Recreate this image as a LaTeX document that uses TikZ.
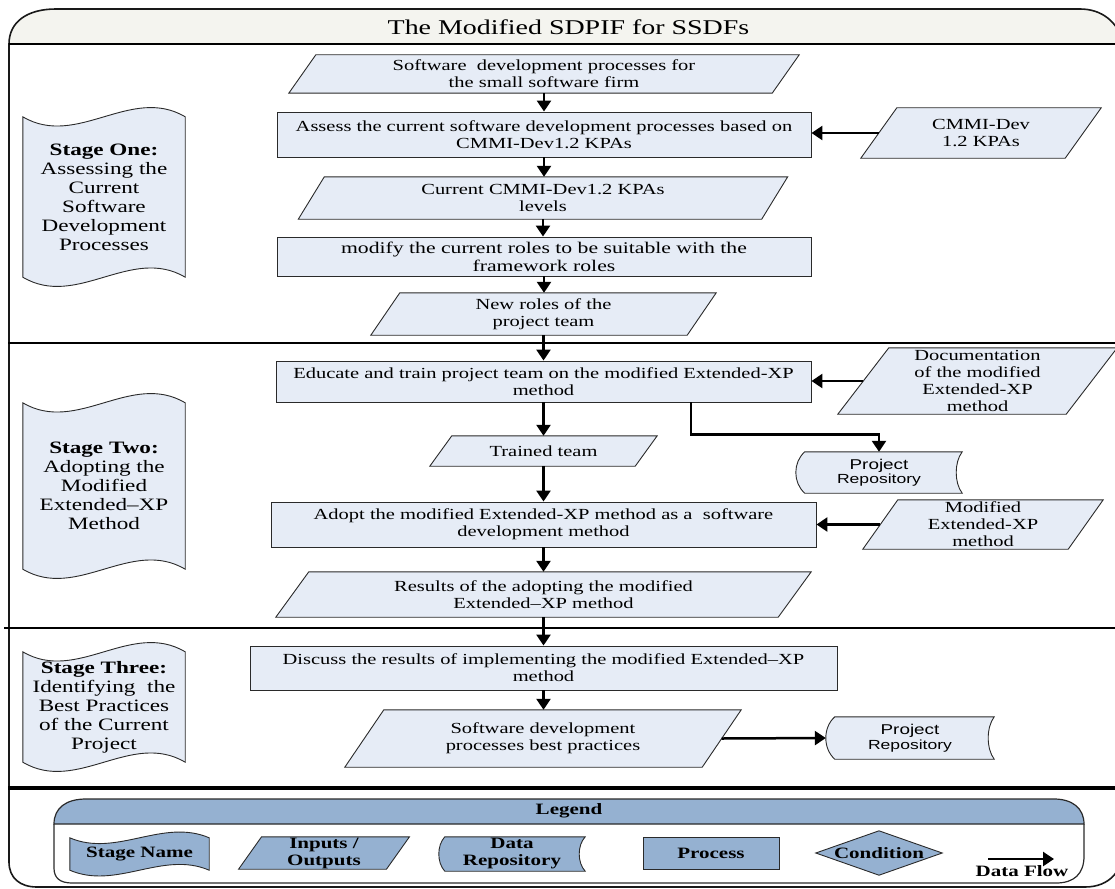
\documentclass[tikz,border=0pt]{standalone}
\usepackage{fontspec}
\setmainfont[FakeStretch=1.33]{Liberation Serif}
\newfontfamily\sansx[FakeStretch=1.33]{Liberation Sans}
\usetikzlibrary{arrows.meta,calc,backgrounds}
\definecolor{boxc}{HTML}{E6ECF6}
\definecolor{legc}{HTML}{95B1D1}
\definecolor{linec}{HTML}{2A2A2A}
\definecolor{titlec}{HTML}{F4F4EF}
\newcommand\mainsz{\fontsize{15.4}{17}\selectfont}
\newcommand\bigsz{\fontsize{16.3}{18}\selectfont}
\newcommand\stagesz{\fontsize{17.4}{19}\selectfont}
\newcommand\legsz{\fontsize{15.8}{17}\selectfont\bfseries}
\newcommand\titlesz{\fontsize{21}{25}\selectfont}
\newcommand\projsz{\fontsize{14.2}{17}\selectfont}
\newcommand\reposz{\fontsize{13.2}{17}\selectfont}

\newcommand\ioshape[3][boxc]{%
  \begin{scope}[on background layer]
  \draw[shp,fill=#1] ([xshift=-#3/2]#2.south west) -- ([xshift=#3/2]#2.north west) -- ([xshift=#3/2]#2.north east) -- ([xshift=-#3/2]#2.south east) -- cycle;
  \end{scope}}
\newcommand\tapeshape[3][boxc]{%
  \begin{scope}[on background layer]
  \draw[shp,fill=#1] (#2.north west) .. controls ($(#2.north west)!0.3333!(#2.north east)+(0,#3)$) and ($(#2.north west)!0.6667!(#2.north east)-(0,#3)$) .. (#2.north east) -- (#2.south east) .. controls ($(#2.south west)!0.6667!(#2.south east)-(0,#3)$) and ($(#2.south west)!0.3333!(#2.south east)+(0,#3)$) .. (#2.south west) -- cycle;
  \end{scope}}
\newcommand\reposhape[4][boxc]{%
  \begin{scope}[on background layer]
  \draw[shp,fill=#1] ([xshift=#3]#2.north west) -- (#2.north east)
    .. controls ($(#2.east)!0.5!(#2.north east)+(-#4*4/3,0)$) and ($(#2.east)!0.5!(#2.south east)+(-#4*4/3,0)$) .. (#2.south east)
    -- ([xshift=#3]#2.south west)
    .. controls ($(#2.west)!0.5!(#2.south west)+(-#3/3,0)$) and ($(#2.west)!0.5!(#2.north west)+(-#3/3,0)$) .. ([xshift=#3]#2.north west) -- cycle;
  \end{scope}}

\tikzset{
  shp/.style={draw=linec, line width=0.9pt},
  proc/.style={draw=linec, fill=boxc, line width=0.9pt, inner sep=0pt, align=center, font=\mainsz},
  iotxt/.style={inner sep=0pt, align=center, font=\mainsz},
  stagetxt/.style={inner sep=0pt, align=center, font=\stagesz},
  legtxt/.style={inner sep=0pt, align=center, font=\legsz},
  flow/.style={line width=2.5pt, -{Triangle[width=14pt,length=11pt]}},
}

\begin{document}
\begin{tikzpicture}[x=1pt,y=-1pt]
\useasboundingbox (0,0) rectangle (1115,888);

% frame
\begin{scope}[on background layer]
\fill[titlec] (9,44) .. controls (9,22) and (27,9) .. (56,9) -- (1080,9) .. controls (1102,9) and (1118,22) .. (1124,44) -- cycle;
\draw[line width=1.6pt, draw=black!90] (9,44) .. controls (9,22) and (27,9) .. (56,9) -- (1080,9) .. controls (1102,9) and (1118,22) .. (1124,44) -- (1124,845) .. controls (1124,870) and (1110,887) .. (1085,887) -- (37,887) .. controls (20,887) and (9,878) .. (9,862) -- cycle;
\draw[line width=1.6pt] (9,44) -- (1124,44);
\draw[line width=2.5pt] (8,343) -- (1124,343);
\draw[line width=2.2pt] (4,628) -- (1124,628);
\draw[line width=4.5pt] (8,788) -- (1124,788);
\draw[shp, line width=1.2pt, fill=legc] (54,824) .. controls (54,808) and (66,799) .. (86,799) -- (1054,799) .. controls (1072,799) and (1084,808) .. (1084,824) -- cycle;
\draw[shp, line width=1.2pt] (54,824) -- (54,868) .. controls (54,878) and (60,883) .. (72,883) -- (1056,883) .. controls (1074,883) and (1084,874) .. (1084,856) -- (1084,824);
\end{scope}

\node[inner sep=0pt, font=\titlesz] (title) at (568.5,27) {The Modified SDPIF for SSDFs};

% stages
\node[stagetxt, minimum width=162, minimum height=160] (s1) at (104,197) {\textbf{Stage One:}\\Assessing the\\Current\\Software\\Development\\Processes};
\tapeshape{s1}{32}
\node[stagetxt, minimum width=162, minimum height=166] (s2) at (104,486) {\textbf{Stage Two:}\\Adopting the\\Modified\\Extended–XP\\Method};
\tapeshape{s2}{32}
\node[stagetxt, minimum width=162, minimum height=110] (s3) at (104,707) {\textbf{Stage Three:}\\Identifying\ \ the\\Best Practices\\of the Current\\Project};
\tapeshape{s3}{32}

% stage one
\node[iotxt, minimum width=483, minimum height=38] (in1) at (544,74) {Software\ \ development processes for\\the small software firm};
\ioshape{in1}{27}
\node[proc, minimum width=534, minimum height=45] (p1) at (544,134.5) {Assess the current software development processes based on\\CMMI-Dev1.2 KPAs};
\node[iotxt, minimum width=204, minimum height=50] (in2) at (981,133) {CMMI-Dev\\1.2 KPAs};
\ioshape{in2}{36}
\node[iotxt, minimum width=463, minimum height=42] (in3) at (543,198) {Current CMMI-Dev1.2 KPAs\\levels};
\ioshape{in3}{26}
\node[proc, font=\bigsz, minimum width=534, minimum height=39] (p2) at (544,256.5) {modify the current roles to be suitable with the\\framework roles};
\node[iotxt, minimum width=316, minimum height=42] (in4) at (543.5,314) {New roles of the\\project team};
\ioshape{in4}{29}

% stage two
\node[proc, minimum width=535, minimum height=41] (p3) at (543.5,381.5) {Educate and train project team on the modified Extended-XP\\method};
\node[iotxt, minimum width=228, minimum height=66] (in5) at (977.5,381) {Documentation\\of the modified\\Extended-XP\\method};
\ioshape{in5}{51}
\node[inner sep=0pt, align=center, minimum width=166, minimum height=41] (r1) at (879,472.5) {{\sansx\projsz Project}\\[1pt]{\sansx\reposz Repository}};
\reposhape{r1}{9}{6}
\node[iotxt, minimum width=205, minimum height=30] (in6) at (543.5,451) {Trained team};
\ioshape{in6}{22}
\node[proc, minimum width=545, minimum height=45] (p4) at (543.5,524.5) {Adopt the modified Extended-XP method as a\ \ software\\development method};
\node[iotxt, minimum width=205, minimum height=49] (in7) at (983,524.5) {Modified\\Extended-XP\\method};
\ioshape{in7}{35}
\node[iotxt, minimum width=502, minimum height=45] (in8) at (543.5,594.5) {Results of the adopting the modified\\Extended–XP method};
\ioshape{in8}{33}

% stage three
\node[proc, minimum width=587, minimum height=44] (p5) at (543.5,668) {Discuss the results of implementing the modified Extended–XP\\method};
\node[iotxt, minimum width=357, minimum height=57] (in9) at (543,738.5) {Software development\\processes best practices};
\ioshape{in9}{39}
\node[inner sep=0pt, align=center, minimum width=168, minimum height=42] (r2) at (910,738) {{\sansx\projsz Project}\\[1pt]{\sansx\reposz Repository}};
\reposhape{r2}{9}{6}

% flows
\draw[flow] (in1.south) -- (in1.south |- p1.north);
\draw[flow] (p1.south) -- (p1.south |- in3.north);
\draw[flow] (in3.south) -- (in3.south |- p2.north);
\draw[flow] (p2.south) -- (p2.south |- in4.north);
\draw[flow] (in4.south) -- (in4.south |- p3.north);
\draw[flow] (p3.south) -- (p3.south |- in6.north);
\draw[flow] (in6.south) -- (in6.south |- p4.north);
\draw[flow] (p4.south) -- (p4.south |- in8.north);
\draw[flow] (in8.south) -- (in8.south |- p5.north);
\draw[flow] (p5.south) -- (p5.south |- in9.north);
\draw[flow] (in2.west) -- (in2.west -| p1.east);
\draw[flow] (in5.west) -- (in5.west -| p3.east);
\draw[flow] (in7.west) -- (in7.west -| p4.east);
\draw[flow] ([xshift=147.5]p3.south) -- ++(0,32) -| (r1.north);
\draw[flow] (in9.east) -- (r2.west);

% legend
\node[legtxt] (lg) at (569,811) {Legend};
\node[legtxt, minimum width=139, minimum height=32] (lsn) at (139.5,854) {Stage Name};
\tapeshape[legc]{lsn}{20}
\node[legtxt, minimum width=147.5, minimum height=32] (lio) at (324,853) {Inputs /\\Outputs};
\ioshape[legc]{lio}{23}
\node[legtxt, minimum width=146, minimum height=34] (ldr) at (512,854) {Data\\Repository};
\reposhape[legc]{ldr}{6}{6}
\node[legtxt, draw=linec, fill=legc, line width=0.9pt, minimum width=136, minimum height=32] (lpr) at (711,853) {Process};
\node[legtxt, minimum width=126, minimum height=44] (lcd) at (879,853) {Condition};
\begin{scope}[on background layer]
\draw[shp, fill=legc] (lcd.west) -- (lcd.north) -- (lcd.east) -- (lcd.south) -- cycle;
\end{scope}
\node[legtxt] (ldf) at (1022,871) {Data Flow};
\coordinate (df1) at (988,859);
\coordinate (df2) at (1054,859);
\draw[flow] (df1) -- (df2);
\end{tikzpicture}
\end{document}
